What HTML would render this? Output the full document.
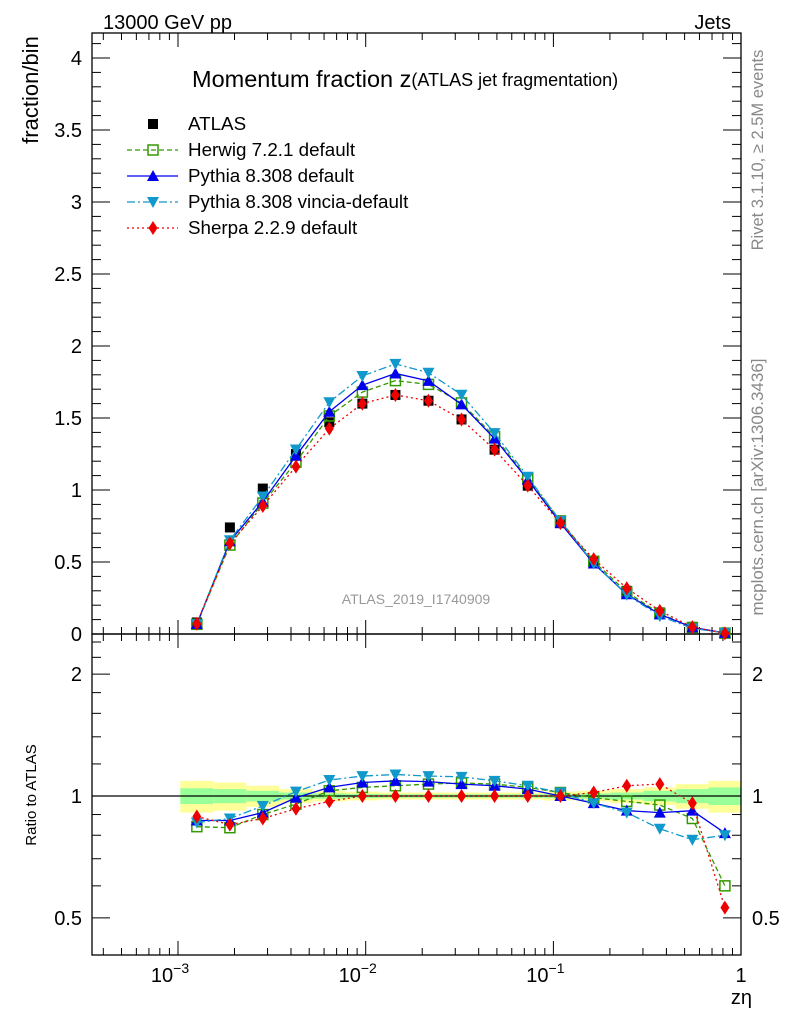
<!DOCTYPE html>
<html><head><meta charset="utf-8">
<style>
body{margin:0;background:#fff;}
svg{display:block;font-family:"Liberation Sans",sans-serif;}
</style></head>
<body>
<svg id="chart" width="786" height="1024" xmlns="http://www.w3.org/2000/svg">
<g id="bands"></g>
<g id="grid"></g>
<g id="series"></g>
<text x="103" y="29" font-size="20">13000 GeV pp</text>
<text x="731" y="29" font-size="20" text-anchor="end">Jets</text>
<text x="192" y="87" font-size="23.5">Momentum fraction z<tspan font-size="18" dy="-1">(ATLAS jet fragmentation)</tspan></text>
<text transform="translate(38,90) rotate(-90)" font-size="22" text-anchor="middle">fraction/bin</text>
<text transform="translate(36,795) rotate(-90)" font-size="15" text-anchor="middle">Ratio to ATLAS</text>
<text x="752" y="1004" font-size="20" text-anchor="end">zη</text>
<text transform="translate(763,150) rotate(-90)" font-size="16.5" fill="#888" text-anchor="middle">Rivet 3.1.10, ≥ 2.5M events</text>
<text transform="translate(763,487) rotate(-90)" font-size="17" fill="#888" text-anchor="middle">mcplots.cern.ch [arXiv:1306.3436]</text>
<text x="416" y="604" font-size="14" fill="#999" text-anchor="middle">ATLAS_2019_I1740909</text>
<g id="legend"></g>
</svg>
<script>
const xVals=[1.26e-3,1.89e-3,2.83e-3,4.25e-3,6.4e-3,9.6e-3,1.44e-2,2.16e-2,3.24e-2,4.86e-2,7.3e-2,1.09e-1,1.64e-1,2.46e-1,3.69e-1,5.5e-1,8.2e-1];
const atlas=[0.08,0.74,1.01,1.25,1.47,1.60,1.66,1.62,1.49,1.28,1.03,0.77,0.51,0.30,0.15,0.05,0.01];
const herwigR=[0.84,0.835,0.90,0.955,1.03,1.05,1.06,1.07,1.077,1.07,1.05,1.02,0.99,0.97,0.95,0.88,0.60];
const pythiaR=[0.87,0.87,0.91,0.99,1.05,1.08,1.09,1.085,1.07,1.06,1.04,1.0,0.96,0.92,0.91,0.92,0.81];
const vinciaR=[0.86,0.88,0.945,1.025,1.095,1.12,1.13,1.12,1.115,1.09,1.06,1.02,0.96,0.91,0.83,0.78,0.80];
const sherpaR=[0.89,0.85,0.88,0.93,0.97,1.0,1.0,1.0,1.0,1.0,1.0,1.0,1.02,1.06,1.07,0.96,0.53];
const bandTot=[0.09,0.08,0.06,0.04,0.03,0.025,0.02,0.02,0.02,0.02,0.02,0.025,0.03,0.04,0.05,0.07,0.09];
const bandStat=[0.045,0.04,0.03,0.02,0.015,0.012,0.01,0.01,0.01,0.01,0.01,0.012,0.015,0.02,0.03,0.04,0.05];
const mainTicks=[0,0.5,1,1.5,2,2.5,3,3.5,4];
const mainTickLabels=["0","0.5","1","1.5","2","2.5","3","3.5","4"];
const ratioTicks=[0.5,1,2];
const ratioTickLabels=["0.5","1","2"];
const xTicks=[-3,-2,-1,0];
const xTickLabels=["10","10","10","1"];
const xTickExp=["−3","−2","−1",""];

const NS="http://www.w3.org/2000/svg";
const L=92,R=741,T=33,MB=634,RB=955;
const xs=v=>178+(Math.log10(v)+3)*187.7;
const ym=v=>634-v*144;
const yr=v=>796-Math.log10(v)*405;
function mk(tag,attrs,parent){const e=document.createElementNS(NS,tag);for(const k in attrs)e.setAttribute(k,attrs[k]);parent.appendChild(e);return e;}
const grid=document.getElementById('grid'),bands=document.getElementById('bands'),series=document.getElementById('series'),legend=document.getElementById('legend');

xVals.forEach((v,i)=>{
  const lx=Math.log10(v),a=xs(Math.pow(10,lx-0.088)),b=xs(Math.pow(10,lx+0.088));
  const r1=mk('rect',{x:a,y:yr(1+bandTot[i]),width:b-a,height:yr(1-bandTot[i])-yr(1+bandTot[i]),fill:'#ffff99'},bands);
  
  
  const r2=mk('rect',{x:a,y:yr(1+bandStat[i]),width:b-a,height:yr(1-bandStat[i])-yr(1+bandStat[i]),fill:'#99ff99'},bands);
  
  
});

mk('rect',{x:L,y:T,width:R-L,height:MB-T,fill:'none',stroke:'#000','stroke-width':1.3},grid);
mk('rect',{x:L,y:MB,width:R-L,height:RB-MB,fill:'none',stroke:'#000','stroke-width':1.3},grid);
mk('line',{x1:L,x2:R,y1:yr(1),y2:yr(1),stroke:'#000','stroke-width':1.2},grid);
for(let d=-4;d<=0;d++){for(let m=1;m<10;m++){const v=m*Math.pow(10,d);const x=xs(v);if(x<L||x>R)continue;const len=m==1?14:7;
  [MB,RB].forEach(yb=>mk('line',{x1:x,x2:x,y1:yb,y2:yb-len,stroke:'#000'},grid));
  [T,MB].forEach(yt=>mk('line',{x1:x,x2:x,y1:yt,y2:yt+len,stroke:'#000'},grid));
}}
xTicks.forEach((d,i)=>{const t=mk('text',{x:xs(Math.pow(10,d))-(xTickExp[i]?8:0),y:982,'font-size':20,'text-anchor':'middle'},grid);t.textContent=xTickLabels[i];
  if(xTickExp[i]){const s=mk('tspan',{dy:-9,'font-size':14},t);s.textContent=xTickExp[i];}
  });
for(let v=0;v<=4.15;v+=0.1){const y=ym(v);const maj=Math.abs(v*2-Math.round(v*2))<1e-6;const len=maj?18:9;
  mk('line',{x1:L,x2:L+len,y1:y,y2:y,stroke:'#000'},grid);mk('line',{x1:R,x2:R-len,y1:y,y2:y,stroke:'#000'},grid);}
mainTicks.forEach((v,i)=>{const t=mk('text',{x:82,y:ym(v)+7,'font-size':20,'text-anchor':'end'},grid);t.textContent=mainTickLabels[i];
  });
[0.5,0.6,0.7,0.8,0.9,1,1.2,1.4,1.6,1.8,2,2.2,2.4].forEach(v=>{const y=yr(v);const maj=ratioTicks.includes(v);const len=maj?18:9;
  mk('line',{x1:L,x2:L+len,y1:y,y2:y,stroke:'#000'},grid);mk('line',{x1:R,x2:R-len,y1:y,y2:y,stroke:'#000'},grid);});
ratioTicks.forEach((v,i)=>{[[82,'end'],[752,'start']].forEach(([x,a])=>{const t=mk('text',{x:x,y:yr(v)+7,'font-size':20,'text-anchor':a},grid);t.textContent=ratioTickLabels[i];
  });});

function marker(kind,x,y,col,g){
  if(kind=='sq')return mk('rect',{x:x-5,y:y-5,width:10,height:10,fill:'#000'},g);
  if(kind=='osq')return mk('rect',{x:x-5,y:y-5,width:10,height:10,fill:'none',stroke:col,'stroke-width':1.5},g);
  if(kind=='tri')return mk('polygon',{points:`${x},${y-6} ${x-6},${y+5} ${x+6},${y+5}`,fill:col},g);
  if(kind=='itri')return mk('polygon',{points:`${x},${y+6} ${x-6},${y-5} ${x+6},${y-5}`,fill:col},g);
  if(kind=='dia')return mk('polygon',{points:`${x},${y-7} ${x-4.5},${y} ${x},${y+7} ${x+4.5},${y}`,fill:col},g);
}
const specs=[
 {name:'herwig',ratio:herwigR,col:'#339900',mk:'osq',dash:'5,3',label:'Herwig 7.2.1 default'},
 {name:'pythia',ratio:pythiaR,col:'#0000ee',mk:'tri',dash:'',label:'Pythia 8.308 default'},
 {name:'vincia',ratio:vinciaR,col:'#1199cc',mk:'itri',dash:'8,3,2,3',label:'Pythia 8.308 vincia-default'},
 {name:'sherpa',ratio:sherpaR,col:'#ee0000',mk:'dia',dash:'2,3',label:'Sherpa 2.2.9 default'}];
const ga=mk('g',{},series);
atlas.forEach((v,i)=>{const m=marker('sq',xs(xVals[i]),ym(v),'#000',ga);});
specs.forEach(s=>{
  const g=mk('g',{},series);
  const pm=xVals.map((x,i)=>xs(x)+','+ym(atlas[i]*s.ratio[i])).join(' ');
  const pr=xVals.map((x,i)=>xs(x)+','+yr(s.ratio[i])).join(' ');
  const l1=mk('polyline',{points:pm,fill:'none',stroke:s.col,'stroke-width':1.3,'stroke-dasharray':s.dash},g);
  
  const l2=mk('polyline',{points:pr,fill:'none',stroke:s.col,'stroke-width':1.3,'stroke-dasharray':s.dash},g);
  
  xVals.forEach((x,i)=>{
    const a=marker(s.mk,xs(x),ym(atlas[i]*s.ratio[i]),s.col,g);
    const b=marker(s.mk,xs(x),yr(s.ratio[i]),s.col,g);
  });
});
const lg=[{label:'ATLAS',mk:'sq',col:'#000',dash:null}].concat(specs);
lg.forEach((s,i)=>{const y=124+i*26;
  const g=mk('g',{},legend);
  if(s.dash!==null)mk('line',{x1:127,x2:178,y1:y,y2:y,stroke:s.col,'stroke-width':1.3,'stroke-dasharray':s.dash},g);
  marker(s.mk,153,y,s.col,g);
  const t=mk('text',{x:188,y:y+6,'font-size':18.8},g);t.textContent=s.label;});
</script>
</body></html>
